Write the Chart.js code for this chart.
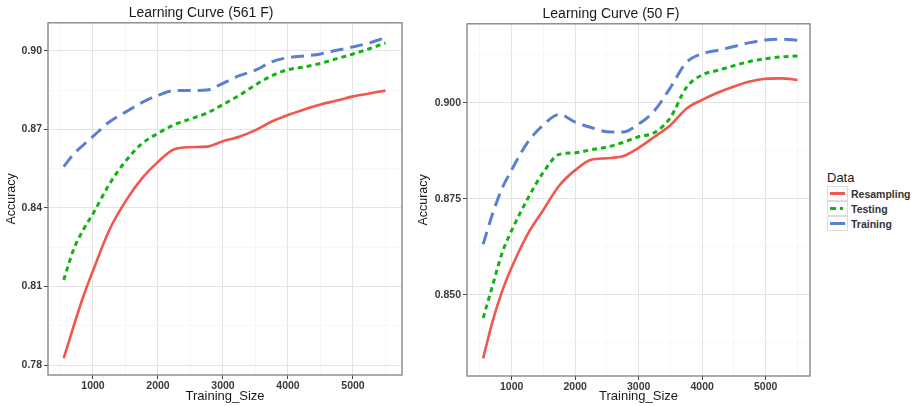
<!DOCTYPE html>
<html>
<head>
<meta charset="utf-8">
<script src="https://cdn.jsdelivr.net/npm/chart.js@4.4.1/dist/chart.umd.min.js"></script>
<style>
  body { margin: 0; background: #fff; width: 913px; height: 406px; position: relative; overflow: hidden; font-family: Arial, "Liberation Sans", sans-serif; }
  #c1 { position: absolute; left: 0; top: 0; }
  #c2 { position: absolute; left: 412px; top: 0; }
  #legend { position: absolute; left: 827px; top: 170px; color: #1a1a1a; }
  #legend .ttl { font-size: 13px; line-height: 15px; margin-bottom: 1px; }
  #legend .row { display: flex; align-items: center; height: 15px; }
  #legend .key { width: 19px; height: 13px; border: 1px solid #dcdcdc; position: relative; margin-right: 3px; }
  #legend .key span { position: absolute; left: 2px; top: 5px; width: 15px; height: 3px; }
  #legend .lbl { font-size: 10.5px; font-weight: bold; color: #333; }
</style>
</head>
<body>
<canvas id="c1" width="410" height="406"></canvas>
<canvas id="c2" width="406" height="406"></canvas>
<div id="legend">
  <div class="ttl">Data</div>
  <div class="row"><div class="key"><span style="background:#f2564c"></span></div><div class="lbl">Resampling</div></div>
  <div class="row"><div class="key"><span style="background:linear-gradient(to right,#13b313 0 6px,transparent 6px 10px,#13b313 10px 13px,transparent 13px)"></span></div><div class="lbl">Testing</div></div>
  <div class="row"><div class="key"><span style="background:#5b80cf"></span></div><div class="lbl">Training</div></div>
</div>
<script>
// training sizes (x) shared by all curves
const sizes = [550, 700, 850, 1000, 1250, 1500, 1750, 2000, 2250, 2500, 2750, 3000, 3250, 3500, 3750, 4000, 4250, 4500, 4750, 5000, 5250, 5500];

// Learning Curve (561 F)
const resampling561 = [0.7826, 0.7947, 0.8061, 0.8160, 0.8315, 0.8425, 0.8512, 0.8576, 0.8624, 0.8632, 0.8634, 0.8655, 0.8672, 0.8697, 0.8730, 0.8755, 0.8776, 0.8795, 0.8810, 0.8826, 0.8837, 0.8848];
const testing561 = [0.8125, 0.8240, 0.8316, 0.8378, 0.8490, 0.8578, 0.8645, 0.8685, 0.8718, 0.8740, 0.8762, 0.8795, 0.8830, 0.8870, 0.8905, 0.8928, 0.8938, 0.8952, 0.8970, 0.8988, 0.9008, 0.9030];
const training561 = [0.8558, 0.8605, 0.8640, 0.8673, 0.8728, 0.8766, 0.8802, 0.8830, 0.8848, 0.8848, 0.8850, 0.8876, 0.8905, 0.8926, 0.8958, 0.8974, 0.8980, 0.8988, 0.9002, 0.9015, 0.9030, 0.9050];

// Learning Curve (50 F)
const resampling50 = [0.8335, 0.8432, 0.8510, 0.8572, 0.8658, 0.8722, 0.8785, 0.8825, 0.8852, 0.8856, 0.8861, 0.8883, 0.8912, 0.8942, 0.8985, 0.9008, 0.9027, 0.9043, 0.9056, 0.9063, 0.9064, 0.9060];
const testing50 = [0.8440, 0.8525, 0.8610, 0.8668, 0.8750, 0.8820, 0.8866, 0.8870, 0.8878, 0.8885, 0.8897, 0.8912, 0.8923, 0.8962, 0.9040, 0.9073, 0.9085, 0.9097, 0.9108, 0.9115, 0.9120, 0.9122];
const training50 = [0.8632, 0.8712, 0.8778, 0.8826, 0.8897, 0.8943, 0.8970, 0.8950, 0.8936, 0.8925, 0.8924, 0.8945, 0.8980, 0.9040, 0.9105, 0.9128, 0.9137, 0.9147, 0.9157, 0.9164, 0.9166, 0.9163];

// tick positions (major get labels, minor only grid lines)
const xMajor = [1000, 2000, 3000, 4000, 5000];
const xMinor = [500, 1500, 2500, 3500, 4500, 5500];
const yMajor561 = [0.78, 0.81, 0.84, 0.87, 0.90];
const yMinor561 = [0.795, 0.825, 0.855, 0.885];
const yMajor50 = [0.850, 0.875, 0.900];
const yMinor50 = [0.8375, 0.8625, 0.8875, 0.9125];

const RED = '#f2564c', GREEN = '#13b313', BLUE = '#5b80cf';

const isIn = (list, v) => list.some(m => Math.abs(m - v) < 1e-9);

// ggplot-like panel border on all four sides
const panelBorder = {
  id: 'panelBorder',
  afterDatasetsDraw(chart) {
    const { ctx, chartArea: a } = chart;
    ctx.save();
    ctx.strokeStyle = '#7f7f7f';
    ctx.lineWidth = 1.3;
    ctx.strokeRect(a.left, a.top, a.right - a.left, a.bottom - a.top);
    ctx.restore();
  }
};

function series(label, ys, color, dash, width) {
  return {
    label,
    data: sizes.map((x, i) => ({ x, y: ys[i] })),
    borderColor: color,
    borderWidth: width,
    borderDash: dash,
    pointRadius: 0,
    fill: false,
    cubicInterpolationMode: 'monotone'
  };
}

function makeChart(id, cfg) {
  const allY = [...cfg.yMajor, ...cfg.yMinor].sort((a, b) => a - b);
  const allX = [...xMajor, ...xMinor].sort((a, b) => a - b);
  const tickFont = { family: 'Arial, "Liberation Sans", sans-serif', size: 10.5, weight: 'bold' };
  return new Chart(document.getElementById(id), {
    type: 'line',
    data: {
      datasets: [
        series('Resampling', cfg.resampling, RED, [], 2.6),
        series('Testing', cfg.testing, GREEN, [5, 4], 3),
        series('Training', cfg.training, BLUE, [13, 7], 3)
      ]
    },
    options: {
      responsive: false,
      animation: false,
      layout: { padding: { left: 0, right: 8, top: 0, bottom: 0 } },
      plugins: {
        legend: { display: false },
        tooltip: { enabled: false },
        title: {
          display: true,
          text: cfg.title,
          color: '#1a1a1a',
          font: { family: 'Arial, "Liberation Sans", sans-serif', size: 14, weight: 'normal' },
          padding: { top: cfg.titleTop, bottom: 1 }
        }
      },
      scales: {
        x: {
          type: 'linear',
          min: cfg.xMin,
          max: cfg.xMax,
          afterBuildTicks: s => { s.ticks = allX.map(v => ({ value: v })); },
          afterFit: s => { s.height = cfg.xHeight; },
          border: { display: false },
          grid: {
            color: c => isIn(xMajor, c.tick.value) ? '#e4e4e4' : '#f3f3f3',
            lineWidth: c => isIn(xMajor, c.tick.value) ? 1 : 0.7,
            tickColor: c => isIn(xMajor, c.tick.value) ? '#444' : 'rgba(0,0,0,0)',
            tickLength: 4
          },
          ticks: {
            autoSkip: false,
            maxRotation: 0,
            padding: 1,
            color: '#3a3a3a',
            font: tickFont,
            callback: v => isIn(xMajor, v) ? String(v) : ''
          },
          title: {
            display: true,
            text: 'Training_Size',
            color: '#1a1a1a',
            font: { family: 'Arial, "Liberation Sans", sans-serif', size: 13 },
            padding: { top: 0, bottom: 2 }
          }
        },
        y: {
          type: 'linear',
          min: cfg.yMin,
          max: cfg.yMax,
          afterBuildTicks: s => { s.ticks = allY.map(v => ({ value: v })); },
          afterFit: s => { s.width = cfg.yWidth; },
          border: { display: false },
          grid: {
            color: c => isIn(cfg.yMajor, c.tick.value) ? '#e4e4e4' : '#f3f3f3',
            lineWidth: c => isIn(cfg.yMajor, c.tick.value) ? 1 : 0.7,
            tickColor: c => isIn(cfg.yMajor, c.tick.value) ? '#444' : 'rgba(0,0,0,0)',
            tickLength: 4
          },
          ticks: {
            autoSkip: false,
            padding: 2,
            color: '#3a3a3a',
            font: tickFont,
            callback: v => isIn(cfg.yMajor, v) ? v.toFixed(cfg.decimals) : ''
          },
          title: {
            display: true,
            text: 'Accuracy',
            color: '#1a1a1a',
            font: { family: 'Arial, "Liberation Sans", sans-serif', size: 12.5 },
            padding: { top: 4, bottom: 0 }
          }
        }
      }
    },
    plugins: [panelBorder]
  });
}

makeChart('c1', {
  title: 'Learning Curve (561 F)',
  resampling: resampling561, testing: testing561, training: training561,
  yMajor: yMajor561, yMinor: yMinor561, decimals: 2,
  xMin: 308, xMax: 5754, yMin: 0.7762, yMax: 0.9107,
  yWidth: 48, xHeight: 31, titleTop: 5
});

makeChart('c2', {
  title: 'Learning Curve (50 F)',
  resampling: resampling50, testing: testing50, training: training50,
  yMajor: yMajor50, yMinor: yMinor50, decimals: 3,
  xMin: 296, xMax: 5698, yMin: 0.8289, yMax: 0.9206,
  yWidth: 55, xHeight: 30, titleTop: 6
});
</script>
</body>
</html>
